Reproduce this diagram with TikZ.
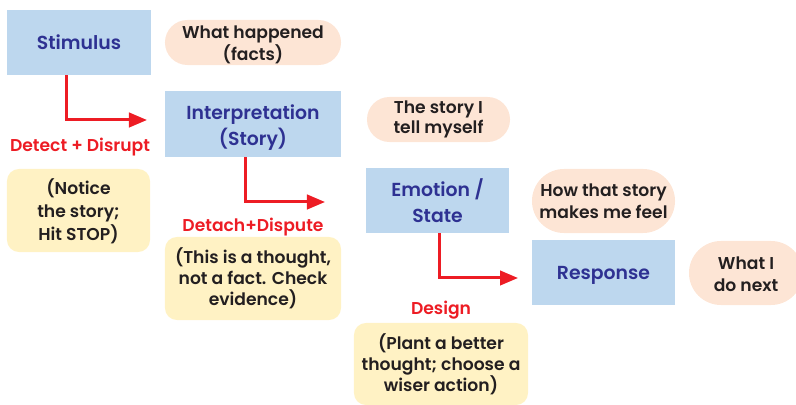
\documentclass[tikz,border=0pt]{standalone}
\usepackage{fontspec}
\setmainfont{Poppins}[BoldFont={Poppins SemiBold}]
\usetikzlibrary{arrows.meta}
\definecolor{stagefill}{HTML}{BDD7EE}
\definecolor{stagetext}{HTML}{2E3192}
\definecolor{notefill}{HTML}{FDE5D5}
\definecolor{tipfill}{HTML}{FFF2C4}
\definecolor{flowred}{HTML}{ED1C24}
\definecolor{inktext}{HTML}{231F20}
\newcommand\topgap[1]{\rule{0pt}{#1}}
\begin{document}
\begin{tikzpicture}[x=0.025cm,y=-0.025cm,
  stage/.style={fill=stagefill,text=stagetext,align=center,inner sep=0pt,
    font=\bfseries\fontsize{13.4}{18}\selectfont},
  note/.style={fill=notefill,text=inktext,align=center,inner sep=0pt,rounded corners=0.56cm,
    font=\bfseries\fontsize{12.2}{15.6}\selectfont},
  tip/.style={fill=tipfill,text=inktext,align=center,inner sep=0pt,rounded corners=0.3cm,
    font=\bfseries\fontsize{12.2}{15}\selectfont},
  skill/.style={text=flowred,inner sep=0pt,text height=8.6pt,text depth=0pt,
    font=\bfseries\fontsize{12.2}{14}\selectfont},
  oneline/.style={text height=9.4pt,text depth=0pt},
  flow/.style={draw=flowred,line width=0.075cm,-{Triangle[length=0.45cm,width=0.36cm]}}]
\clip (0,0) rectangle (796,405);
% stages
\node[stage,oneline,minimum width=3.6cm,minimum height=1.625cm] (stim) at (79,42.5) {Stimulus};
\node[stage,minimum width=4.4cm,minimum height=1.65cm] (interp) at (253,124) {\topgap{15.5pt}Interpretation\\(Story)};
\node[stage,minimum width=3.575cm,minimum height=1.625cm] (emo) at (437.5,200.5) {\topgap{13pt}Emotion /\\State};
\node[stage,oneline,minimum width=3.575cm,minimum height=1.625cm] (resp) at (603.5,272.5) {Response};
% side notes
\node[note,minimum width=4.4cm,minimum height=1.125cm] (facts) at (253,42.5) {\topgap{12.6pt}What happened\\(facts)};
\node[note,minimum width=3.575cm,minimum height=1.125cm,font=\bfseries\fontsize{12.2}{11.8}\selectfont] (story) at (438.5,119.5) {The story I\\tell myself};
\node[note,minimum width=3.575cm,minimum height=1.6cm,rounded corners=0.8cm] (feel) at (603.5,201) {How that story\\makes me feel};
\node[note,minimum width=2.85cm,minimum height=1.6cm,rounded corners=0.8cm] (next) at (746,273) {\topgap{11pt}What I\\do next};
% skills
\node[skill] (detect) at (80,145) {Detect + Disrupt};
\node[skill] (detach) at (253,225) {Detach+Dispute};
\node[skill] (design) at (441,308) {Design};
\node[tip,minimum width=3.575cm,minimum height=2.075cm,font=\bfseries\fontsize{12.2}{16.4}\selectfont] (stop) at (78.5,210.5) {\topgap{12pt}(Notice\\the story;\\Hit STOP)};
\node[tip,minimum width=4.4cm,minimum height=2.075cm] (check) at (253,278.5) {(This is a thought,\\not a fact. Check\\evidence)};
\node[tip,minimum width=4.35cm,minimum height=2.05cm] (plant) at (441,364) {(Plant a better\\thought; choose a\\wiser action)};
% arrows
\coordinate (end1) at (147,120);
\coordinate (end2) at (325,202);
\coordinate (end3) at (518,278);
\draw[flow] ([xshift=-0.3cm]stim.south) |- (end1);
\draw[flow] ([xshift=-0.2cm]interp.south) |- (end2);
\draw[flow] ([xshift=0.04cm]emo.south) |- (end3);
\end{tikzpicture}
\end{document}
